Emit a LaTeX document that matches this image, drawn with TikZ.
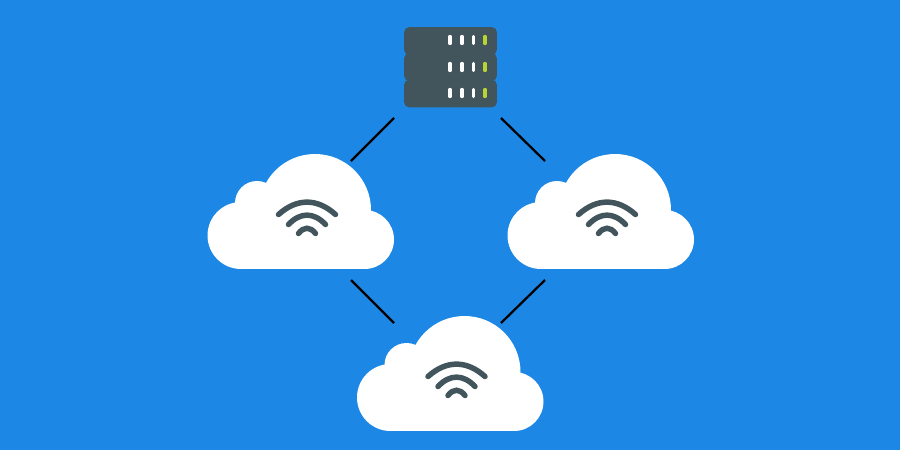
\documentclass[tikz,border=0pt]{standalone}
\usepackage{xcolor}
\definecolor{skyblue}{HTML}{1C87E5}
\definecolor{slatedark}{HTML}{42555D}
\definecolor{limeled}{HTML}{B9D532}
\tikzset{
  srvrow/.style={fill=slatedark, rounded corners=0.11cm, minimum width=1.86cm, minimum height=0.56cm, inner sep=0pt},
  led/.style={line width=0.065cm, line cap=round, color=white},
  wave/.style={line width=0.11cm, line cap=round, color=slatedark},
  link/.style={line width=0.045cm, color=black},
  pics/wificloud/.style={code={
    \fill[white] (34,81.5) circle (33.5);
    \fill[white] (50,49) circle (22);
    \fill[white] (108,56) circle (56);
    \fill[white] (157.5,85.5) circle (29.5);
    \fill[white] (34,56) rectangle (157.5,115);
    \draw[wave] (71.5,60.5) .. controls (90,44) and (110,44) .. (128.5,60.5);
    \draw[wave] (81.5,70.5) .. controls (93.3,58) and (106.7,58) .. (118.5,70.5);
    \draw[wave] (91.5,79.5) .. controls (96.7,72.5) and (103.3,72.5) .. (108.5,79.5);
  }}
}
\begin{document}
\begin{tikzpicture}[x=0.02cm,y=-0.02cm]
\fill[skyblue] (0,0) rectangle (900,450);

% server
\node[srvrow] (rowA) at (450.5,41) {};
\node[srvrow] (rowB) at (450.5,67) {};
\node[srvrow] (rowC) at (450.5,93.5) {};
\foreach \y in {40,67,93} {
  \foreach \x in {450,462,473.5} {
    \draw[led] (\x,\y-3.5) -- (\x,\y+3.5);
  }
  \draw[led, color=limeled] (485,\y-3.5) -- (485,\y+3.5);
}

% clouds
\pic (cloudA) at (207,154) {wificloud};
\pic (cloudB) at (507,154) {wificloud};
\pic (cloudC) at (356.5,316) {wificloud};

% connector ends
\coordinate (srvL) at (394,118);
\coordinate (srvR) at (501,118);
\coordinate (cloudAtop) at (351,161);
\coordinate (cloudBtop) at (545,161);
\coordinate (cloudAbot) at (351,280);
\coordinate (cloudBbot) at (545,280);
\coordinate (cloudCl) at (394,323);
\coordinate (cloudCr) at (501,323);
\draw[link] (srvL) -- (cloudAtop);
\draw[link] (srvR) -- (cloudBtop);
\draw[link] (cloudAbot) -- (cloudCl);
\draw[link] (cloudBbot) -- (cloudCr);
\end{tikzpicture}
\end{document}
